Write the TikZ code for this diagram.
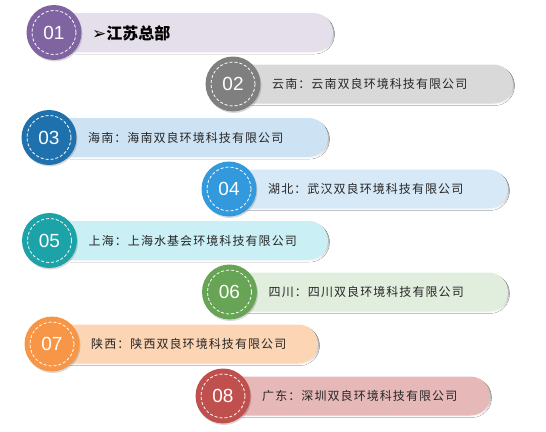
\documentclass[tikz,border=0pt]{standalone}
\usepackage{fontspec}
\setmainfont{Liberation Sans}
\newfontfamily\cjk[LetterSpace=9]{Noto Sans CJK SC}
\newfontfamily\cjkb{Noto Sans CJK SC}
\newfontfamily\djv{DejaVu Sans}
\definecolor{c1}{HTML}{8064A2}\definecolor{b1}{HTML}{E5DFEC}
\definecolor{c2}{HTML}{7F7F7F}\definecolor{b2}{HTML}{D9D9D9}
\definecolor{c3}{HTML}{1F71AD}\definecolor{b3}{HTML}{CDE2F3}
\definecolor{c4}{HTML}{3199DC}\definecolor{b4}{HTML}{D7E8F6}
\definecolor{c5}{HTML}{1CA3A8}\definecolor{b5}{HTML}{CAF0F5}
\definecolor{c6}{HTML}{67A456}\definecolor{b6}{HTML}{E1EEDD}
\definecolor{c7}{HTML}{F79646}\definecolor{b7}{HTML}{FCD5B5}
\definecolor{c8}{HTML}{C0504D}\definecolor{b8}{HTML}{E6B9B8}
\definecolor{shade}{HTML}{A6C6E2}
\tikzset{
  numtxt/.style={text=white,font=\fontsize{19}{19}\selectfont},
  itemtxt/.style={anchor=west,inner sep=0pt,font=\cjk\fontsize{12}{12}\selectfont,text=black!85},
  dashring/.style={draw=white,line width=0.8pt,dash pattern=on 3pt off 2pt}
}
\newcommand{\rowitem}[7]{%
  % #1 name, #2 cx, #3 cy, #4 right end, #5 circle colour, #6 bar colour, #7 text
  \fill[shade,rounded corners=19.5pt] ({#2+1.5},{#3-18}) rectangle ({#4+1.5},{#3+21.5});
  \fill[#6,rounded corners=19.5pt] ({#2},{#3-19.5}) rectangle ({#4},{#3+19.5});
  \fill[black,opacity=0.15] ({#2+1},{#3+1.5}) circle (27.5);
  \fill[#5] (#2,#3) circle (27.5);
  \draw[dashring] (#2,#3) circle (22);
  \node[numtxt] (n#1) at (#2,#3) {#1};
  \node[itemtxt] (t#1) at ({#2+39},{#3}) {#7};
}
\begin{document}
\begin{tikzpicture}[x=1pt,y=-1pt]
\useasboundingbox (0,0) rectangle (546,431);
\fill[shade,rounded corners=19.5pt] (55.5,14.5) rectangle (334.5,54);
\fill[b1,rounded corners=19.5pt] (54,13) rectangle (333,52);
\fill[black,opacity=0.15] (55,34) circle (27.5);
\fill[c1] (54,32.5) circle (27.5);
\draw[dashring] (54,32.5) circle (22);
\node[numtxt] (n01) at (54,32.5) {01};
\node[anchor=west,inner sep=0pt] (t01) at (92,33) {{\djv\fontsize{17}{17}\selectfont ➢}{\cjkb\fontsize{16}{16}\selectfont\bfseries 江苏总部}};
\rowitem{02}{233}{84}{513}{c2}{b2}{云南：云南双良环境科技有限公司}
\rowitem{03}{49}{137.5}{328}{c3}{b3}{海南：海南双良环境科技有限公司}
\rowitem{04}{229}{189}{508}{c4}{b4}{湖北：武汉双良环境科技有限公司}
\rowitem{05}{49.5}{240.5}{328}{c5}{b5}{上海：上海水基会环境科技有限公司}
\rowitem{06}{229.5}{292}{508}{c6}{b6}{四川：四川双良环境科技有限公司}
\rowitem{07}{52}{344}{318}{c7}{b7}{陕西：陕西双良环境科技有限公司}
\rowitem{08}{223}{396}{490}{c8}{b8}{广东：深圳双良环境科技有限公司}
\end{tikzpicture}
\end{document}
